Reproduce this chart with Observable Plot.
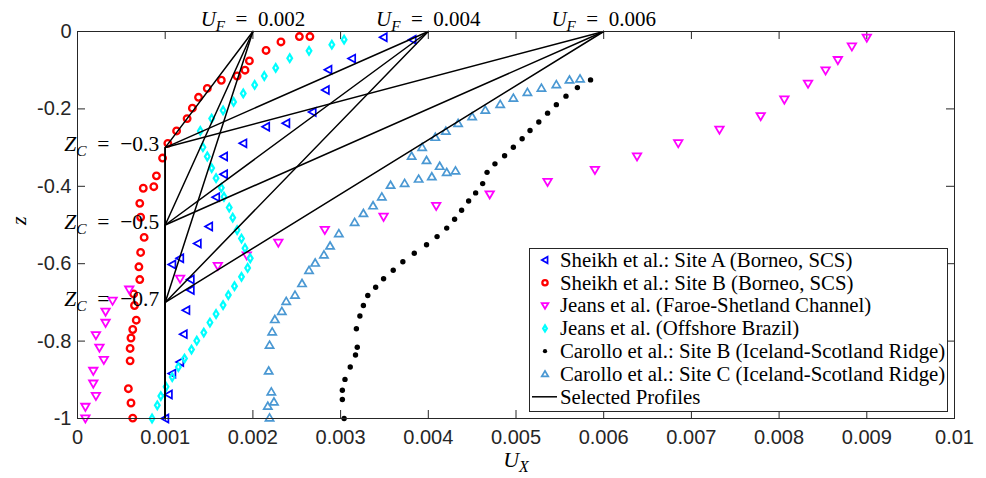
<!DOCTYPE html>
<html>
<head>
<meta charset="utf-8">
<script src="https://cdn.jsdelivr.net/npm/d3@7"></script>
<script src="https://cdn.jsdelivr.net/npm/@observablehq/plot@0.6"></script>
<style>
  html, body { margin: 0; padding: 0; background: #fff; overflow: hidden; }
  #wrap { position: relative; width: 986px; height: 478px; }
  #wrap > svg.main { position: absolute; left: 0; top: 0; }
</style>
</head>
<body>
<div id="wrap"></div>
<script>
// ---------------- data (U_X, z) ----------------
const sheikhA = [[0.00349,-0.015],[0.00382,-0.021],[0.00313,-0.070],[0.00286,-0.099],[0.00283,-0.151],[0.00268,-0.208],[0.00238,-0.237],[0.00215,-0.246],[0.00189,-0.289],[0.00167,-0.323],[0.00167,-0.369],[0.00158,-0.428],[0.00150,-0.504],[0.00137,-0.548],[0.00117,-0.586],[0.00108,-0.602],[0.00129,-0.641],[0.00129,-0.668],[0.00124,-0.720],[0.00121,-0.782],[0.00117,-0.854],[0.00108,-0.884],[0.00104,-0.938],[0.00100,-1.0]];
const sheikhB = [[0.00265,-0.013],[0.00253,-0.013],[0.00232,-0.027],[0.00215,-0.049],[0.00196,-0.076],[0.00191,-0.100],[0.00182,-0.115],[0.00164,-0.126],[0.00148,-0.147],[0.00138,-0.170],[0.00131,-0.198],[0.00125,-0.225],[0.00113,-0.257],[0.00103,-0.289],[0.00097,-0.327],[0.00090,-0.373],[0.00087,-0.401],[0.00075,-0.405],[0.00071,-0.444],[0.00072,-0.480],[0.00076,-0.532],[0.00072,-0.571],[0.00070,-0.608],[0.00071,-0.641],[0.00064,-0.678],[0.00065,-0.708],[0.00067,-0.746],[0.00063,-0.770],[0.00061,-0.792],[0.00060,-0.819],[0.00060,-0.851],[0.00058,-0.923],[0.00061,-0.960],[0.00063,-0.999]];
const jeansFSC = [[0.00900,-0.016],[0.00883,-0.039],[0.00867,-0.074],[0.00853,-0.101],[0.00833,-0.135],[0.00806,-0.176],[0.00779,-0.219],[0.00732,-0.254],[0.00685,-0.289],[0.00638,-0.323],[0.00590,-0.358],[0.00536,-0.389],[0.00470,-0.421],[0.00409,-0.451],[0.00349,-0.479],[0.00282,-0.513],[0.00229,-0.546],[0.00193,-0.579],[0.00160,-0.606],[0.00117,-0.639],[0.00059,-0.667],[0.00040,-0.696],[0.00032,-0.724],[0.00032,-0.753],[0.00021,-0.785],[0.00025,-0.817],[0.00030,-0.849],[0.00018,-0.877],[0.00018,-0.910],[0.00021,-0.942],[0.00009,-0.970],[0.00009,-1.0]];
const jeansBrazil = [[0.00304,-0.021],[0.00290,-0.034],[0.00264,-0.050],[0.00242,-0.069],[0.00226,-0.094],[0.00213,-0.115],[0.00202,-0.138],[0.00189,-0.160],[0.00178,-0.182],[0.00166,-0.204],[0.00153,-0.225],[0.00140,-0.257],[0.00143,-0.299],[0.00148,-0.323],[0.00153,-0.353],[0.00158,-0.379],[0.00164,-0.404],[0.00167,-0.427],[0.00173,-0.455],[0.00177,-0.481],[0.00182,-0.513],[0.00187,-0.535],[0.00191,-0.560],[0.00197,-0.586],[0.00194,-0.611],[0.00187,-0.634],[0.00179,-0.658],[0.00172,-0.681],[0.00166,-0.707],[0.00158,-0.730],[0.00151,-0.752],[0.00144,-0.778],[0.00136,-0.799],[0.00130,-0.822],[0.00122,-0.845],[0.00115,-0.867],[0.00108,-0.893],[0.00101,-0.918],[0.00095,-0.942],[0.00091,-0.966],[0.00085,-1.0]];
const carolloB = [[0.00585,-0.125],[0.00570,-0.145],[0.00557,-0.167],[0.00546,-0.189],[0.00536,-0.211],[0.00526,-0.234],[0.00516,-0.256],[0.00507,-0.277],[0.00497,-0.299],[0.00487,-0.321],[0.00476,-0.342],[0.00467,-0.364],[0.00462,-0.393],[0.00454,-0.417],[0.00446,-0.438],[0.00438,-0.462],[0.00430,-0.485],[0.00421,-0.508],[0.00410,-0.530],[0.00398,-0.551],[0.00384,-0.573],[0.00371,-0.595],[0.00360,-0.617],[0.00349,-0.639],[0.00340,-0.661],[0.00331,-0.682],[0.00326,-0.708],[0.00322,-0.735],[0.00318,-0.768],[0.00319,-0.816],[0.00317,-0.836],[0.00311,-0.867],[0.00305,-0.899],[0.00302,-0.927],[0.00302,-0.951],[0.00304,-1.0]];
const carolloC = [[0.00573,-0.122],[0.00561,-0.125],[0.00546,-0.137],[0.00529,-0.146],[0.00513,-0.157],[0.00497,-0.172],[0.00482,-0.188],[0.00465,-0.203],[0.00450,-0.220],[0.00434,-0.237],[0.00420,-0.257],[0.00408,-0.273],[0.00393,-0.299],[0.00381,-0.322],[0.00398,-0.333],[0.00413,-0.348],[0.00421,-0.364],[0.00431,-0.360],[0.00404,-0.375],[0.00389,-0.381],[0.00373,-0.392],[0.00357,-0.397],[0.00347,-0.427],[0.00337,-0.450],[0.00326,-0.470],[0.00316,-0.493],[0.00298,-0.522],[0.00288,-0.554],[0.00281,-0.577],[0.00271,-0.598],[0.00264,-0.617],[0.00256,-0.651],[0.00248,-0.681],[0.00238,-0.697],[0.00233,-0.723],[0.00225,-0.744],[0.00222,-0.776],[0.00219,-0.810],[0.00218,-0.877],[0.00221,-0.931],[0.00224,-0.957],[0.00217,-0.968],[0.00219,-0.998]];

// selected profiles: U = uBottom from z=-1 up to z=Zc, then linear to U_F at z=0
const uBottom = 0.001;
const zBottom = -1;
const zTop = 0;
const zcValues = [-0.3, -0.5, -0.7];
const ufValues = [0.002, 0.004, 0.006];

const xTicks = [0, 0.001, 0.002, 0.003, 0.004, 0.005, 0.006, 0.007, 0.008, 0.009, 0.01];
const yTicks = [0, -0.2, -0.4, -0.6, -0.8, -1];

const legendLabels = [
  "Sheikh et al.: Site A (Borneo, SCS)",
  "Sheikh et al.: Site B (Borneo, SCS)",
  "Jeans et al. (Faroe-Shetland Channel)",
  "Jeans et al. (Offshore Brazil)",
  "Carollo et al.: Site B (Iceland-Scotland Ridge)",
  "Carollo et al.: Site C (Iceland-Scotland Ridge)",
  "Selected Profiles"
];

// ---------------- build ----------------
const profiles = [];
for (const uf of ufValues) for (const zc of zcValues) {
  const id = `${uf}_${zc}`;
  profiles.push({id, u: uBottom, z: zBottom});
  profiles.push({id, u: uBottom, z: zc});
  profiles.push({id, u: uf, z: zTop});
}

// custom marker shapes
const R = s => Math.sqrt(s / Math.PI);
const triLeft = {draw(c, s) { const r = R(s); c.moveTo(-r, 0); c.lineTo(r * 0.8, -r); c.lineTo(r * 0.8, r); c.closePath(); }};
const triDown = {draw(c, s) { const r = R(s); c.moveTo(-r, -r * 0.75); c.lineTo(r, -r * 0.75); c.lineTo(0, r * 0.95); c.closePath(); }};
const triUp = {draw(c, s) { const r = R(s); c.moveTo(-r, r * 0.75); c.lineTo(r, r * 0.75); c.lineTo(0, -r * 0.95); c.closePath(); }};
const diam = {draw(c, s) { const r = R(s); c.moveTo(0, -r); c.lineTo(r * 0.62, 0); c.lineTo(0, r); c.lineTo(-r * 0.62, 0); c.closePath(); }};
const circ = {draw(c, s) { const r = R(s); c.moveTo(r, 0); c.arc(0, 0, r, 0, 2 * Math.PI); }};
const dotSym = {draw(c, s) { const r = R(s); c.moveTo(r, 0); c.arc(0, 0, r, 0, 2 * Math.PI); }};

const series = [
  {data: sheikhA, symbol: triLeft, r: 4.0, stroke: "#0000ff", fill: "none", sw: 1.7},
  {data: sheikhB, symbol: circ, r: 3.3, stroke: "#ff0000", fill: "none", sw: 2.3},
  {data: jeansFSC, symbol: triDown, r: 4.2, stroke: "#ff00ff", fill: "none", sw: 1.8},
  {data: jeansBrazil, symbol: diam, r: 3.8, stroke: "#00ffff", fill: "none", sw: 2.2},
  {data: carolloB, symbol: dotSym, r: 2.7, stroke: "none", fill: "#000000", sw: 0},
  {data: carolloC, symbol: triUp, r: 4.1, stroke: "#4a98d3", fill: "none", sw: 1.7}
];

const W = 986, H = 478, mL = 77, mR = 32, mT = 31, mB = 60;
const innerW = W - mL - mR, innerH = H - mT - mB, tick = 8;
const axisColor = "#262626";
const serif = "'Liberation Serif', 'Times New Roman', serif";

const fmtX = d => d === 0 ? "0" : String(+d.toFixed(3));
const fmtY = d => d === 0 ? "0" : String(+d.toFixed(1));

const marks = [
  // inward ticks on all four sides
  Plot.gridX(xTicks, {stroke: axisColor, strokeOpacity: 1, strokeWidth: 1, insetTop: innerH - tick}),
  Plot.gridX(xTicks, {stroke: axisColor, strokeOpacity: 1, strokeWidth: 1, insetBottom: innerH - tick}),
  Plot.gridY(yTicks, {stroke: axisColor, strokeOpacity: 1, strokeWidth: 1, insetRight: innerW - tick}),
  Plot.gridY(yTicks, {stroke: axisColor, strokeOpacity: 1, strokeWidth: 1, insetLeft: innerW - tick}),
  Plot.axisX(xTicks, {tickSize: 0, tickPadding: 11, tickFormat: fmtX, label: null, fill: axisColor}),
  Plot.axisY(yTicks, {tickSize: 0, tickPadding: 6, tickFormat: fmtY, label: null, fill: axisColor}),
  ...series.map(s => Plot.dot(s.data, {
    x: d => d[0], y: d => d[1], symbol: s.symbol, r: s.r,
    stroke: s.stroke, fill: s.fill, strokeWidth: s.sw
  })),
  Plot.line(profiles, {x: "u", y: "z", z: "id", stroke: "#000", strokeWidth: 1.5, strokeLinejoin: "miter"}),
  Plot.frame({stroke: axisColor, strokeWidth: 1}),
  // annotations
  Plot.text(ufValues, {x: d => d, y: zTop, text: d => `U|F|\u2002=\u2002${d}`, dy: -12,
    fontFamily: serif, fontSize: 21, fill: "#000"}),
  Plot.text(zcValues, {x: uBottom, y: d => d, text: d => `Z|C|\u2002=\u2002\u2212${Math.abs(d)}`,
    textAnchor: "end", dx: -6, dy: -3, fontFamily: serif, fontSize: 21.5, fill: "#000"}),
  Plot.text(["U|X|"], {frameAnchor: "bottom", dy: 48, fontFamily: serif, fontSize: 22, fill: "#000"}),
  Plot.text(["z"], {frameAnchor: "left", dx: -59, rotate: -90, fontFamily: serif, fontStyle: "italic", fontSize: 22, fill: "#000"})
];

const chart = Plot.plot({
  width: W, height: H,
  marginLeft: mL, marginRight: mR, marginTop: mT, marginBottom: mB,
  x: {domain: [0, 0.01]},
  y: {domain: [-1, 0]},
  style: {fontFamily: "'Liberation Sans', Arial, sans-serif", fontSize: "20px", color: axisColor, background: "#fff", overflow: "visible"},
  marks
});
chart.classList.add("main");

// subscripts: "A|b|rest"
const NS = "http://www.w3.org/2000/svg";
chart.querySelectorAll("text").forEach(t => {
  const s = t.textContent;
  if (!s.includes("|")) return;
  const [a, b, c] = s.split("|");
  t.textContent = "";
  const t1 = document.createElementNS(NS, "tspan");
  t1.textContent = a; t1.setAttribute("font-style", "italic");
  const t2 = document.createElementNS(NS, "tspan");
  t2.textContent = b; t2.setAttribute("font-style", "italic");
  t2.setAttribute("font-size", "0.72em"); t2.setAttribute("dy", "5");
  t.appendChild(t1); t.appendChild(t2);
  if (c) {
    const t3 = document.createElementNS(NS, "tspan");
    t3.textContent = c; t3.setAttribute("dy", "-5");
    t.appendChild(t3);
  }
});

const wrap = document.getElementById("wrap");
wrap.appendChild(chart);

// ---------------- legend ----------------
const LW = 419, LH = 164, rowY0 = 12, rowDy = 22.8, legScale = 0.8;
const leg = d3.select(wrap).append("svg").attr("id", "legend")
  .attr("width", LW).attr("height", LH)
  .style("position", "absolute").style("left", "529px").style("top", "248px");
leg.append("rect").attr("x", 0.5).attr("y", 0.5).attr("width", LW - 1).attr("height", LH - 1)
  .attr("fill", "#fff").attr("stroke", axisColor).attr("stroke-width", 1);
legendLabels.forEach((lab, i) => {
  const y = rowY0 + i * rowDy;
  if (i < series.length) {
    const s = series[i];
    const rr = s.r * legScale;
    leg.append("path").attr("transform", `translate(16,${y})`)
      .attr("d", d3.symbol(s.symbol, rr * rr * Math.PI)())
      .attr("fill", s.fill).attr("stroke", s.stroke).attr("stroke-width", s.sw);
  } else {
    leg.append("line").attr("x1", 3).attr("x2", 28).attr("y1", y).attr("y2", y)
      .attr("stroke", "#000").attr("stroke-width", 1.5);
  }
  leg.append("text").attr("x", 31).attr("y", y + 6.8)
    .attr("font-family", serif).attr("font-size", 20.8).attr("fill", "#000").text(lab);
});
</script>
</body>
</html>
